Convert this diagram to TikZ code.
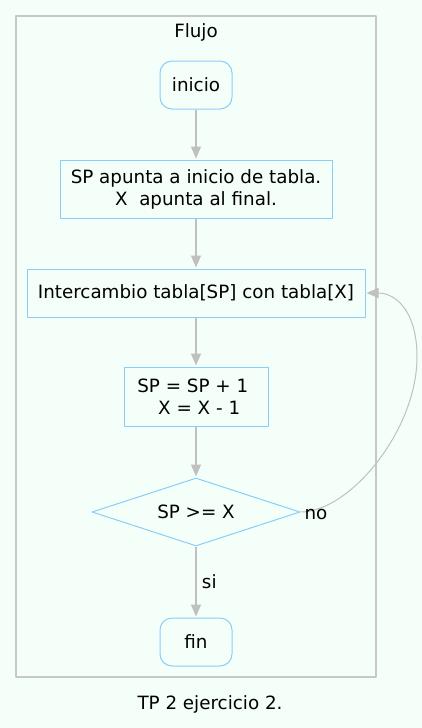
\documentclass[tikz,border=0pt]{standalone}
\usepackage{fontspec}
\setmainfont{DejaVu Sans}
\usetikzlibrary{shapes.geometric,arrows.meta}
\definecolor{mint}{RGB}{245,255,250}
\definecolor{skyline}{RGB}{135,206,250}
\definecolor{edgegray}{RGB}{192,192,192}
\definecolor{clustergray}{RGB}{200,200,200}
\begin{document}
\begin{tikzpicture}[x=1pt,y=-1pt,font=\fontsize{18.3}{22}\selectfont,line join=round,
	flowbox/.style={draw=skyline,line width=1pt,inner sep=0pt,align=center},
	terminal/.style={flowbox,rounded corners=12pt,minimum width=72pt,minimum height=48pt},
	test/.style={flowbox,diamond,aspect=3.06,minimum width=208pt,minimum height=68pt},
	link/.style={draw=edgegray,line width=1.3pt,shorten >=1pt,-{Triangle[length=12pt,width=10pt,fill=edgegray]}}]
	\useasboundingbox[fill=mint] (0,0) rectangle (422,728);
	\draw[clustergray,line width=1.5pt] (16,16) rectangle (376,677);
	\node (titulo) at (196,32) {Flujo};
	\node[terminal] (inicio) at (196,85) {inicio};
	\node[flowbox,minimum width=272pt,minimum height=58pt] (punteros) at (196,189)
		{SP apunta a inicio de tabla.\\X\ \ apunta al final.};
	\node[flowbox,minimum width=338pt,minimum height=48pt] (swap) at (196,293)
		{Intercambio tabla[SP] con tabla[X]};
	\node[flowbox,minimum width=144pt,minimum height=59pt] (avance) at (196,396.5)
		{SP = SP + 1\hspace*{0.35em}\\\hspace*{0.35em}X = X - 1};
	\node[test] (cond) at (196,512) {SP >= X};
	\node[terminal] (fin) at (196,642) {fin};
	\node (caption) at (210,704) {TP 2 ejercicio 2.};
	\draw[link] (inicio)--(punteros);
	\draw[link] (punteros)--(swap);
	\draw[link] (swap)--(avance);
	\draw[link] (avance)--(cond);
	\draw[link] (cond)--node[right,xshift=2pt]{si}(fin);
	\draw[link,line width=1pt] (cond.east) .. controls (350,512) and (417,430) .. (417,357)
		.. controls (417,310) and (395,293) .. (swap.east);
	\node (no) at (316,514) {no};
\end{tikzpicture}
\end{document}
